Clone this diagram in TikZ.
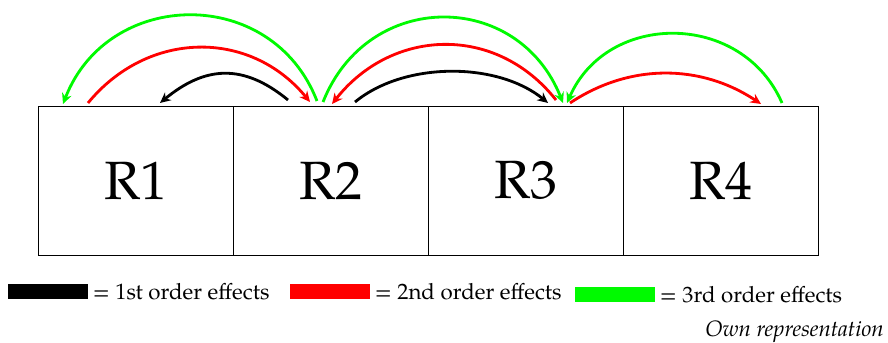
\documentclass[tikz,border=0pt]{standalone}
\usepackage{fontspec}
\setmainfont{TeX Gyre Pagella}
\usetikzlibrary{arrows.meta, positioning, calc}

\definecolor{effred}{RGB}{255,0,0}
\definecolor{effgreen}{RGB}{0,250,0}

\tikzset{
  cell/.style={draw, line width=0.8pt, outer sep=0pt, inner sep=0pt,
    minimum width=5.85cm, minimum height=4.47cm,
    font=\fontsize{46}{50}\selectfont},
  effect/.style={line width=2.4pt, -{Stealth[length=9pt, width=8.5pt]}},
  legbar/.style={minimum width=2.4cm, minimum height=0.45cm, inner sep=0pt, outer sep=0pt},
  legtext/.style={font=\fontsize{19}{22}\selectfont, inner sep=4pt}
}

\begin{document}
\begin{tikzpicture}[x=0.03cm, y=-0.03cm]
\useasboundingbox (0,0) rectangle (888,343);

\node[cell] (r1) at (135.5,180.5) {R1};
\node[cell, right=0pt of r1] (r2) {R2};
\node[cell, right=0pt of r2] (r3) {R3};
\node[cell, right=0pt of r3] (r4) {R4};

% 1st order
\draw[effect, black] ($(r2.north west)+(55,-6)$) .. controls +(-45,-37) and +(45,-37) .. ($(r1.north west)+(122,-3)$);
\draw[effect, black] ($(r2.north west)+(122,-4)$) .. controls +(50,-41) and +(-50,-41) .. ($(r3.north west)+(120,-3)$);

% 2nd order
\draw[effect, effred] ($(r1.north west)+(50,-3)$) .. controls +(60,-73) and +(-60,-73) .. ($(r2.north west)+(77,-4)$);
\draw[effect, effred] ($(r3.north west)+(128,-6)$) .. controls +(-60,-76) and +(60,-76) .. ($(r2.north west)+(99,-2)$);
\draw[effect, effred] ($(r3.north west)+(142,-3)$) .. controls +(60,-40) and +(-60,-40) .. ($(r4.north west)+(138,-2)$);

% 3rd order
\draw[effect, effgreen] ($(r2.north west)+(84,-5)$) .. controls +(-45,-116) and +(45,-116) .. ($(r1.north west)+(25,-2)$);
\draw[effect, effgreen] ($(r2.north west)+(90,-4)$) .. controls +(45,-113) and +(-45,-113) .. ($(r3.north west)+(135,-3)$);
\draw[effect, effgreen] ($(r4.north west)+(159,-3)$) .. controls +(-40,-92) and +(40,-92) .. ($(r3.north west)+(139,-3)$);

% legend
\node[legbar, fill=black] (bar1) at (48,291.5) {};
\node[legtext, right=0pt of bar1] (txt1) {= 1st order effects};
\node[legbar, fill=effred] (bar2) at (330,292) {};
\node[legtext, right=0pt of bar2] (txt2) {= 2nd order effects};
\node[legbar, fill=effgreen] (bar3) at (615,294.5) {};
\node[legtext, right=0pt of bar3] (txt3) {= 3rd order effects};

\node[legtext, inner sep=0pt, anchor=base east, font=\fontsize{19}{22}\selectfont\itshape] (src) at (884,337) {Own representation};
\end{tikzpicture}
\end{document}
